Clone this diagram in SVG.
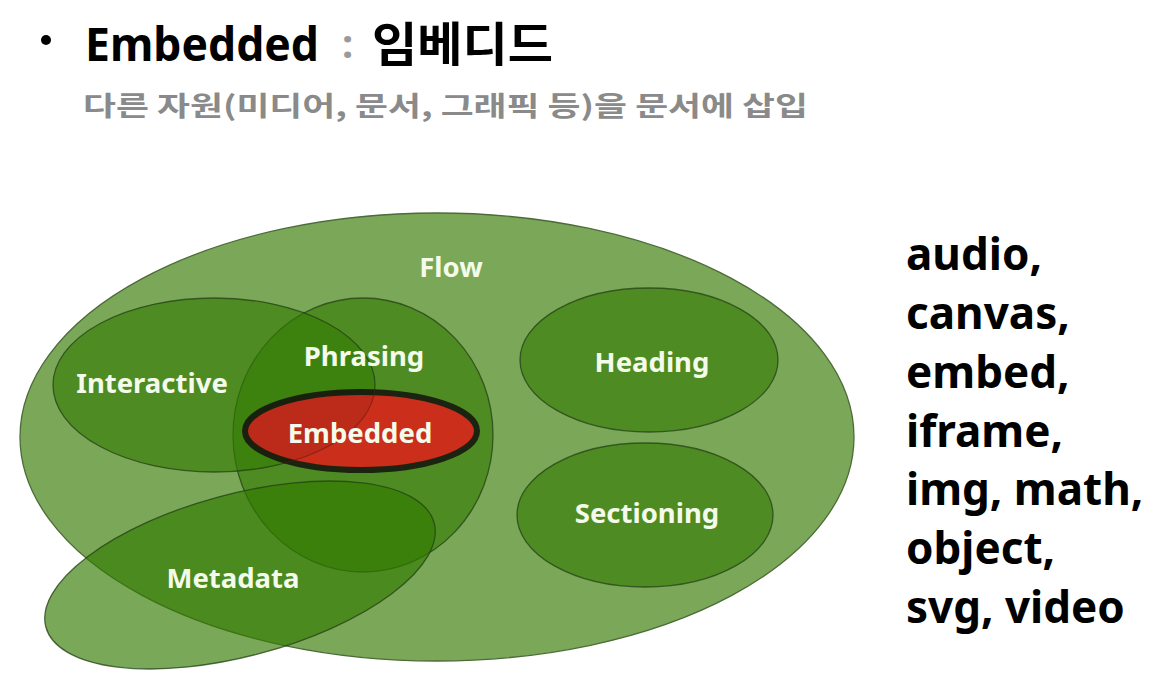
<svg xmlns="http://www.w3.org/2000/svg" width="1156" height="682" viewBox="0 0 1156 682">
  <style>
    .title { font-family: "Noto Sans", "Noto Sans CJK KR", sans-serif; font-weight: 700; }
    .sub { font-family: "Noto Sans CJK KR", "Noto Sans", sans-serif; font-weight: 700; fill: #8a8a8a; }
    .lbl { font-family: "Noto Sans", "Noto Sans CJK KR", sans-serif; font-weight: 700; font-size: 27.5px; fill: #f4fbea; text-anchor: middle; }
    .list { font-family: "Noto Sans", sans-serif; font-weight: 700; font-size: 44px; fill: #000; }
    .set { fill: #347a04; fill-opacity: 0.62; stroke: #233f14; stroke-opacity: 0.75; stroke-width: 1.3; }
  </style>
  <defs>
    <clipPath id="embClip">
      <ellipse cx="361" cy="431" rx="119" ry="42"/>
    </clipPath>
  </defs>

  <rect width="1156" height="682" fill="#ffffff"/>

  <!-- heading -->
  <circle cx="46" cy="40" r="5" fill="#000"/>
  <text class="title" x="85" y="61" font-size="46" fill="#000" textLength="234" lengthAdjust="spacingAndGlyphs">Embedded</text>
  <text class="title" x="342" y="58" font-size="40" fill="#9a9a9a">:</text>
  <text class="title" x="372" y="61" font-size="47" fill="#000" textLength="181" lengthAdjust="spacingAndGlyphs">임베디드</text>
  <text class="sub" x="83" y="116" font-size="27" textLength="725" lengthAdjust="spacingAndGlyphs">다른 자원(미디어, 문서, 그래픽 등)을 문서에 삽입</text>

  <!-- content-model sets -->
  <g id="flow">
    <ellipse cx="437" cy="437" rx="417" ry="224" fill="#7aa858" stroke="#4d6b38" stroke-width="1.3"/>
    <text class="lbl" x="451" y="277">Flow</text>
  </g>

  <g id="phrasing">
    <ellipse class="set" cx="363" cy="435" rx="130" ry="137"/>
  </g>

  <g id="interactive">
    <ellipse class="set" cx="214" cy="385" rx="161" ry="87"/>
  </g>

  <g id="embedded">
    <ellipse cx="361" cy="431" rx="116" ry="39" fill="#cb2e1b" stroke="#1b2410" stroke-width="6"/>
    <!-- part of the interactive set seen through the red fill -->
    <ellipse cx="214" cy="385" rx="161" ry="87" clip-path="url(#embClip)" fill="#000" fill-opacity="0.07" stroke="#5a1a10" stroke-opacity="0.5" stroke-width="1.2"/>
  </g>

  <g id="metadata">
    <ellipse class="set" cx="240" cy="575" rx="201" ry="81" transform="rotate(-15 240 575)" style="fill:#327900;fill-opacity:0.65"/>
  </g>

  <g id="heading">
    <ellipse class="set" cx="649" cy="360" rx="129" ry="72"/>
    <text class="lbl" x="652" y="372">Heading</text>
  </g>

  <g id="sectioning">
    <ellipse class="set" cx="645" cy="515" rx="128" ry="72"/>
    <text class="lbl" x="647" y="523">Sectioning</text>
  </g>

  <!-- labels over the overlapping sets -->
  <text class="lbl" x="152" y="393">Interactive</text>
  <text class="lbl" x="364" y="366">Phrasing</text>
  <text class="lbl" x="360" y="443">Embedded</text>
  <text class="lbl" x="233" y="588">Metadata</text>

  <!-- embedded element list -->
  <g id="element-list">
    <text class="list" x="906" y="270">audio,</text>
    <text class="list" x="906" y="329">canvas,</text>
    <text class="list" x="906" y="388">embed,</text>
    <text class="list" x="906" y="447">iframe,</text>
    <text class="list" x="906" y="505">img, math,</text>
    <text class="list" x="906" y="564">object,</text>
    <text class="list" x="906" y="623">svg, video</text>
  </g>
</svg>
